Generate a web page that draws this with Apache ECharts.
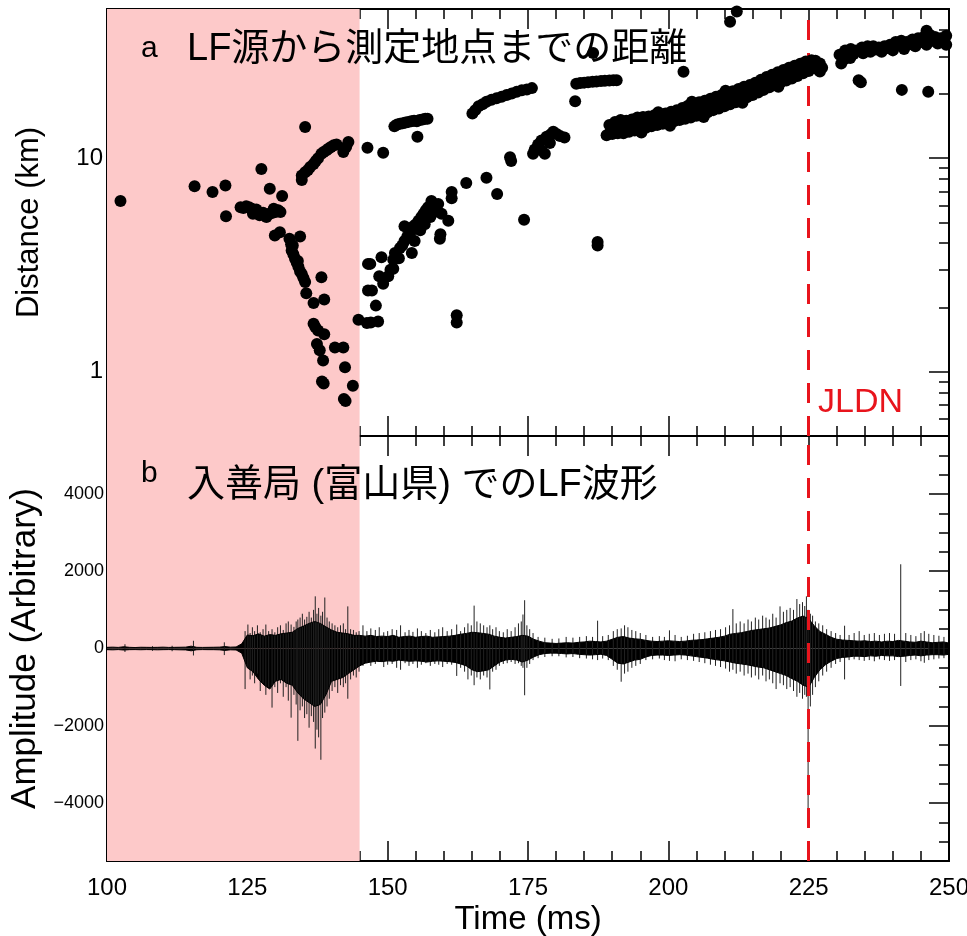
<!DOCTYPE html>
<html><head><meta charset="utf-8">
<script src="https://cdn.jsdelivr.net/npm/echarts@6/dist/echarts.min.js"></script>
<style>html,body{margin:0;padding:0;background:#fff}#c{width:967px;height:936px}</style>
</head><body><div id="c"></div>
<script>
// ---------- data ----------
const timeRange = [100, 250];
const shadeRange = [100, 145];
const jldnTime = 225;
const distMajorTicks = [1, 10];
const distMinorTicks = [0.6, 0.7, 0.8, 0.9, 2, 3, 4, 5, 6, 7, 8, 9, 20, 30, 40];
const ampRange = [-5500, 5500];
const ampMajorTicks = [-4000, -2000, 0, 2000, 4000];

// LF source distance (time ms, distance km)
const lfPoints = [
 [102.4,6.3],[115.6,7.4],[118.8,6.95],[121.1,7.45],[121.2,5.35],[127.5,8.9],[129.0,7.2],[131.2,6.65],
 [123.8,5.9],[124.3,5.85],[124.8,5.95],[125.3,5.9],[125.8,5.8],[126.2,5.7],[126.6,5.75],[127.0,5.6],[127.4,5.5],[127.8,5.55],[128.2,5.4],[128.6,5.45],[129.0,5.5],[129.5,5.55],[130.0,5.6],[130.5,5.7],[130.9,5.6],[126.0,5.5],[127.2,5.4],[128.4,5.3],[129.7,5.8],
 [129.9,4.35],[130.8,4.5],[134.4,4.3],[132.5,4.2],[132.8,3.95],[132.9,3.7],[133.2,3.55],[133.5,3.38],[133.8,3.25],[134.1,3.1],[134.4,2.95],[134.7,2.87],[135.0,2.75],[135.3,2.63],[135.5,2.33],[133.1,3.9],[134.0,3.3],[138.2,2.77],[136.8,2.1],[138.7,2.18],[136.8,1.68],[137.1,1.62],[137.6,1.56],[138.7,1.5],[137.4,1.35],[137.9,1.26],[138.5,1.13],[140.6,1.3],[142.1,1.3],[142.4,1.05],[138.3,0.9],[138.6,0.88],[143.8,0.86],[142.2,0.745],[142.5,0.73],
 [134.7,7.9],[134.7,8.3],[135.3,8.6],[135.8,8.8],[136.2,9.1],[136.8,9.4],[137.2,9.7],[137.6,10.0],[138.2,10.5],[138.6,10.7],[139.1,10.9],[139.5,11.1],[139.9,11.3],[140.4,11.5],[140.9,11.6],[142.1,10.7],[143.0,11.9],[135.3,14.0],[142.6,11.3],
 [146.4,11.2],[149.2,10.6],[144.8,1.75],[146.3,1.69],[147.0,1.70],[148.3,1.72],
 [151.2,14.1],[151.7,14.4],[152.2,14.5],[152.7,14.6],[153.2,14.7],[153.7,14.8],[154.2,14.9],[154.7,15.0],[155.2,14.9],[155.7,15.1],[156.2,15.2],[156.7,15.3],[157.1,15.3],[155.3,12.6],
 [146.5,3.2],[146.5,2.4],[147.9,2.04],[147.2,2.4],[149.2,2.58],[148.5,2.8],[146.9,3.2],[148.9,3.44],[151.0,3.04],[151.0,3.35],[151.3,3.6],[152.2,3.8],[152.6,3.9],[153.0,4.1],[153.5,4.3],[154.0,4.44],[154.6,4.8],[155.0,4.9],[155.5,5.1],[156.0,5.3],[156.4,5.5],[156.8,5.7],[157.2,5.9],[157.8,6.3],[159.0,6.1],[159.6,5.5],[160.8,5.1],[159.3,4.2],[159.4,4.4],[154.3,3.6],[153.0,4.8],[154.8,4.1],[150.1,2.8],[150.5,3.0],[152.0,3.4],[155.8,4.6],[156.6,4.9],[157.6,5.3],[158.3,5.6],[161.4,6.95],[161.4,6.5],[164.0,7.65],[167.6,8.1],[169.5,6.8],[174.3,5.15],[162.3,1.84],[162.3,1.7],
 [165.1,16.2],[165.6,16.8],[166.2,17.5],[166.9,17.9],[167.6,18.4],[168.5,18.8],[169.4,19.1],[170.3,19.4],[171.2,19.8],[172.1,20.1],[173.0,20.5],[173.9,20.8],[174.8,21.0],[175.7,21.3],
 [171.8,10.1],[172.0,9.7],[175.9,10.5],[176.2,11.0],[177.4,12.1],[178.3,12.6],[179.5,13.3],[180.7,12.7],[181.5,12.5],[177.4,10.9],[178.0,10.5],[178.9,11.8],[176.8,11.6],[179.0,12.9],[180.1,13.0],
 [183.6,22.3],[184.3,22.5],[185.0,22.6],[185.7,22.7],[186.5,22.8],[187.2,22.9],[188.0,23.0],[188.7,23.05],[189.5,23.1],[190.2,23.2],[190.8,23.2],[183.4,18.5],[186.6,31.1],[187.4,4.05],[187.4,3.9],
 [189.0,12.8],[190,13.0],[191,13.1],[192,13.1],[193,13.3],[194,13.5],[195,13.7],[196,13.9],[197,14.1],[198,14.3],[199,14.5],[200,14.7],[201,14.9],[202,15.1],[203,15.3],[204,15.5],[205,15.8],[206,16.1],[207,16.4],[208,16.8],[209,17.1],[210,17.5],[211,17.9],[212,18.3],[213,18.8],[214,19.3],[215,19.8],[216,20.3],[217,20.9],[218,21.5],[219,22.1],[220,22.6],[221,23.1],[222,23.6],[223,24.3],[224,25.0],[225,25.6],[226,26.4],[227,25.5],
 [189.8,13.6],[190.8,13.9],[191.8,14.1],[192.8,14.1],[193.8,14.3],[194.8,14.5],[195.8,14.7],[196.8,14.8],[197.8,15.0],[198.8,15.2],[199.8,15.3],[200.8,15.6],[201.8,15.8],[202.8,16.1],[203.8,16.4],[204.8,16.7],[205.8,17.0],[206.8,17.4],[207.8,17.7],[208.8,18.1],[209.8,18.5],[210.8,18.8],[211.8,19.2],[212.8,19.7],[213.8,20.2],[214.8,20.6],[215.8,21.2],[216.8,21.8],[217.8,22.4],[218.8,23.0],[219.8,23.6],[220.8,24.2],[221.8,24.8],[222.8,25.4],[223.8,26.0],[224.8,26.7],[225.8,27.4],[226.6,26.8],[227.4,26.5],
 [189.5,14.3],[190.5,14.8],[191.5,15.1],[192.5,15.0],[193.5,15.2],[194.5,15.5],[195.5,15.6],[196.5,15.7],[197.5,15.9],[198.5,16.0],[199.5,16.2],[200.5,16.5],[201.5,16.8],[202.5,17.2],[203.5,17.6],[204.5,18.0],[205.5,18.3],[206.5,18.6],[207.5,19.0],[208.5,19.4],[209.5,19.8],[210.5,20.2],[211.5,20.6],[212.5,21.1],[213.5,21.6],[214.5,22.0],[215.5,22.6],[216.5,23.3],[217.5,24.0],[218.5,24.6],[219.5,25.3],[220.5,25.9],[221.5,26.5],[222.5,27.1],[223.5,27.7],[224.5,28.4],[225.5,28.8],[226.2,28.6],[227.0,27.8],
 [195.2,13.2],[200.3,14.2],[206.3,15.6],[213.2,18.2],[219.6,21.6],[198.2,16.4],[204.2,18.4],[210.2,20.7],
 [230.5,30.5],[231.5,32.0],[232.5,32.5],[233.5,32.0],[234.5,33.0],[235.5,33.5],[236.5,33.5],[237.5,33.0],[238.5,33.5],[239.5,34.0],[240.5,35.0],[241.5,35.5],[242.5,35.0],[243.5,36.0],[244.5,36.5],[245.5,37.0],[246.0,39.5],[246.5,38.0],[247.5,37.0],[248.5,36.5],[249.5,37.5],
 [231.0,30.2],[233.0,30.8],[235.0,32.2],[237.0,32.3],[239.0,32.8],[241.0,33.7],[243.0,34.2],[245.0,35.0],[247.0,35.5],[249.0,35.5],
 [230.8,27.8],[231.3,29.0],[232.4,29.5],[234.7,31.0],[236.0,31.5],[238.0,31.5],[240.0,32.0],[242.0,32.5],[244.0,33.5],[246.0,34.0],[248.0,34.5],[249.5,34.0],
 [233.9,23.2],[234.3,22.7],[241.6,20.9],[246.3,20.5],[211.0,43.6],[212.2,48.7],[202.7,25.4]
];

// waveform envelope, read per ms
const envTime = [100,101,102,103,104,105,106,107,108,109,110,111,112,113,114,115,116,117,118,119,120,121,122,123,124,125,126,127,128,129,130,131,132,133,134,135,136,137,138,139,140,141,142,143,144,145,146,147,148,149,150,151,152,153,154,155,156,157,158,159,160,161,162,163,164,165,166,167,168,169,170,171,172,173,174,175,176,177,178,179,180,181,182,183,184,185,186,187,188,189,190,191,192,193,194,195,196,197,198,199,200,201,202,203,204,205,206,207,208,209,210,211,212,213,214,215,216,217,218,219,220,221,222,223,224,225,226,227,228,229,230,231,232,233,234,235,236,237,238,239,240,241,242,243,244,245,246,247,248,249,250];
const envHigh = [30,35,28,45,30,25,32,30,28,30, 35,28,30,32,35,60,30,28,30,32, 35,50,35,40,120,350,330,380,320,360, 340,380,400,420,520,580,650,700,650,560, 480,420,400,380,340,340,320,340,310,320, 310,340,290,310,320,290,310,320,290,300, 310,320,340,370,390,420,410,390,370,320, 290,270,290,310,340,320,240,190,150,140, 130,140,150,140,160,170,190,180,170,190, 240,290,310,270,250,240,210,190,180,190, 200,190,180,190,210,220,230,250,270,290, 320,370,390,410,440,470,490,510,530,570, 610,670,710,790,840,770,590,440,370,290, 240,220,210,200,190,200,180,190,170,190, 180,210,190,170,160,190,170,150,160,170, 140];
const envLow = [-30,-35,-28,-40,-30,-28,-32,-28,-30,-34, -30,-28,-30,-34,-36,-60,-32,-28,-30,-30, -34,-50,-34,-38,-120,-500,-600,-800,-950,-1050, -850,-800,-900,-950,-1150,-1300,-1400,-1500,-1450,-1200, -850,-800,-750,-650,-550,-450,-380,-350,-330,-340, -320,-330,-300,-320,-330,-320,-330,-350,-330,-320, -330,-340,-360,-400,-450,-550,-600,-580,-550,-450, -350,-300,-280,-300,-350,-300,-220,-160,-130,-120, -120,-130,-140,-130,-150,-160,-170,-160,-150,-180, -280,-380,-400,-350,-300,-280,-220,-180,-170,-170, -180,-170,-160,-170,-190,-210,-230,-250,-280,-300, -320,-350,-380,-400,-420,-450,-480,-500,-550,-600, -650,-700,-780,-850,-950,-1000,-750,-550,-420,-330, -260,-230,-220,-200,-200,-210,-190,-200,-180,-190, -190,-210,-200,-180,-170,-190,-170,-160,-160,-170, -150];

// individual spikes: [time, max, min]
const spikes = [
 [103.2,110,-90],[108.1,60,-60],[111.6,70,-70],[115.4,200,-180],[120.9,160,-170],
 [124.6,450,-1050],[125.1,620,-500],[125.5,400,-800],[125.9,550,-700],[126.3,450,-900],[126.8,600,-650],[127.3,420,-1100],[127.8,500,-900],[128.3,620,-1200],[128.8,450,-1000],[129.4,500,-1530],[129.9,420,-1000],[130.4,550,-1150],[130.9,600,-900],[131.4,480,-1250],[131.9,650,-1000],[132.3,700,-1350],[132.8,620,-1790],[133.3,560,-1200],[133.7,700,-1450],[134.0,750,-2390],[134.4,800,-1600],[134.8,900,-1500],[135.2,750,-1800],[135.6,820,-1700],[136.0,950,-2050],[136.4,800,-1750],[136.8,1000,-1900],[137.1,1350,-2590],[137.4,900,-2100],[137.7,1050,-2300],[138.1,850,-2880],[138.4,950,-1800],[138.8,1320,-1660],[139.2,800,-1500],[139.6,700,-1300],[140.1,650,-1100],[140.6,600,-1000],[141.1,550,-1150],[141.6,600,-950],[142.1,650,-1000],[142.5,500,-900],[142.9,1090,-1300],[143.4,500,-800],[143.9,480,-700],[144.4,420,-750],[144.9,450,-600],
 [145.6,600,-450],[146.3,450,-380],[147.0,520,-450],[147.8,480,-400],[148.5,550,-350],[149.3,420,-480],[150.0,450,-420],[150.8,500,-400],[151.6,480,-500],[152.3,600,-550],[153.1,420,-380],[153.8,480,-450],[154.5,430,-400],[155.3,520,-500],[156.0,450,-420],[156.8,400,-380],[157.6,480,-450],[158.4,420,-400],[159.1,500,-420],[159.8,550,-480],[160.6,450,-400],[161.4,500,-420],[162.3,620,-710],[163.0,450,-500],[163.7,550,-600],[164.3,650,-800],[164.9,600,-700],[165.4,1110,-950],[165.9,700,-750],[166.5,650,-800],[167.1,600,-700],[167.7,550,-750],[168.2,600,-1060],[168.7,500,-600],[169.3,550,-550],[169.9,450,-450],[170.6,420,-400],[171.3,500,-380],[172.0,450,-350],[172.7,550,-400],[173.3,650,-380],[173.8,700,-450],[174.1,880,-500],[174.4,1250,-1210],[174.8,600,-500],[175.3,500,-400],[175.9,400,-300],[176.8,300,-250],[178.0,280,-220],[179.3,250,-200],[180.5,260,-200],[181.8,300,-230],[183.0,280,-220],[184.2,300,-250],[185.4,320,-260],[186.5,300,-280],[187.4,720,-300],[188.3,320,-260],[189.3,350,-300],[190.2,450,-450],[190.9,500,-550],[191.6,520,-860],[192.2,600,-650],[192.8,550,-600],[193.5,480,-500],[194.2,450,-450],[195.0,400,-400],[196.0,350,-300],[197.2,300,-280],[198.4,320,-260],[199.3,300,-300],[200.2,470,-320],[201.2,350,-330],[202.3,300,-280],[203.4,330,-300],[204.5,380,-320],[205.5,400,-350],[206.5,420,-380],[207.5,450,-420],[208.4,480,-450],[209.3,500,-480],[210.2,550,-520],[210.9,600,-600],[211.5,1020,-550],[212.1,650,-650],[212.8,700,-600],[213.5,650,-700],[214.2,750,-650],[214.8,700,-750],[215.5,800,-700],[216.1,750,-800],[216.8,850,-700],[217.4,800,-850],[218.0,750,-800],[218.6,900,-900],[219.2,800,-1050],[219.9,1090,-900],[220.5,950,-950],[221.1,1000,-1050],[221.7,1050,-1000],[222.3,1000,-1100],[222.9,1280,-1250],[223.4,1150,-1150],[223.9,1200,-1300],[224.3,1100,-1200],[224.6,1350,-1250],[224.9,1000,-4500],[225.3,900,-1500],[225.7,850,-1200],[226.2,700,-1000],[226.8,650,-850],[227.5,600,-700],[228.2,500,-600],[229.0,450,-500],[229.8,400,-400],[230.6,350,-350],[231.4,590,-800],[232.2,350,-300],[233.1,400,-280],[234.0,450,-300],[234.9,350,-320],[235.8,380,-300],[236.7,400,-330],[237.6,350,-280],[238.5,380,-300],[239.4,400,-320],[240.3,380,-300],[241.4,2180,-970],[242.3,400,-350],[243.2,350,-300],[244.1,320,-280],[245.0,400,-330],[245.6,450,-370],[246.4,380,-300],[247.3,350,-280],[248.2,330,-260],[249.1,300,-250]
];

const titleA = 'LF源から測定地点までの距離';
const titleB = '入善局 (富山県) でのLF波形';

// ---------- chart ----------
const LATIN = '"Liberation Sans", Arial, Helvetica, sans-serif';
const MIXED = '"Liberation Sans", "Noto Sans CJK JP", sans-serif';
const chart = echarts.init(document.getElementById('c'), null, {renderer: 'canvas'});

const lineSt = {color: '#000', width: 2};
const tickSt = {color: '#000', width: 1.5};

function xAx(grid, pos, showLabel) {
  return {
    type: 'value', gridIndex: grid, position: pos,
    min: timeRange[0], max: timeRange[1], interval: 25,
    axisLine: {show: true, onZero: false, lineStyle: lineSt},
    axisTick: {show: true, inside: true, length: 20, lineStyle: tickSt},
    minorTick: {show: true, splitNumber: 5, length: 10, lineStyle: tickSt},
    splitLine: {show: false}, minorSplitLine: {show: false},
    axisLabel: {show: showLabel, color: '#000', fontFamily: LATIN, fontSize: 24, margin: 15},
    name: showLabel ? 'Time (ms)' : '', nameLocation: 'middle', nameGap: 42,
    nameTextStyle: {color: '#000', fontFamily: LATIN, fontSize: 33}
  };
}
function logAx(pos, ticks, len, labels, name) {
  return {
    type: 'log', logBase: 10, gridIndex: 0, position: pos, min: 0.5, max: 50,
    axisLine: {show: true, onZero: false, lineStyle: lineSt},
    axisTick: {show: true, inside: true, length: len, customValues: ticks, lineStyle: tickSt},
    splitLine: {show: false},
    axisLabel: labels ? {show: true, customValues: distMajorTicks, color: '#000', fontFamily: LATIN, fontSize: 24, margin: 4} : {show: false},
    name: name || '', nameLocation: 'middle', nameGap: 62,
    nameTextStyle: {color: '#000', fontFamily: LATIN, fontSize: 31}
  };
}
function ampAx(pos, major, labels, name) {
  const ax = {
    type: 'value', gridIndex: 1, position: pos, min: ampRange[0], max: ampRange[1],
    axisLine: {show: true, onZero: false, lineStyle: lineSt},
    splitLine: {show: false},
    axisLabel: labels ? {show: true, customValues: ampMajorTicks, color: '#000', fontFamily: LATIN, fontSize: 18, margin: 3,
      formatter: function (v) { return v < 0 ? '\u2212' + Math.abs(v) : String(v); }} : {show: false},
    name: name || '', nameLocation: 'middle', nameGap: 58,
    nameTextStyle: {color: '#000', fontFamily: LATIN, fontSize: 35}
  };
  if (major) {
    ax.axisTick = {show: true, inside: true, length: 20, customValues: ampMajorTicks, lineStyle: tickSt};
  } else {
    ax.interval = 500;
    ax.axisTick = {show: true, inside: true, length: 10, lineStyle: tickSt};
  }
  return ax;
}

const shadeArea = {silent: true, itemStyle: {color: '#fdc9c9'}, data: [[{xAxis: shadeRange[0]}, {xAxis: shadeRange[1]}]]};
const redLine = {silent: true, symbol: ['none', 'none'], label: {show: false},
  lineStyle: {color: '#e8141c', width: 3, type: [20, 13]}, data: [{xAxis: jldnTime}], animation: false};

const option = {
  animation: false,
  backgroundColor: '#fff',
  grid: [
    {left: 107, right: 18, top: 9, height: 427, outerBoundsMode: 'none'},
    {left: 107, right: 18, top: 436, height: 425, outerBoundsMode: 'none'}
  ],
  xAxis: [xAx(0, 'bottom', false), xAx(0, 'top', false), xAx(1, 'bottom', true), xAx(1, 'top', false)],
  yAxis: [
    logAx('left', distMajorTicks, 20, true, 'Distance (km)'),
    logAx('left', distMinorTicks, 10, false),
    logAx('right', distMajorTicks, 20, false),
    logAx('right', distMinorTicks, 10, false),
    ampAx('left', false, true, 'Amplitude (Arbitrary)'),
    ampAx('left', true, false),
    ampAx('right', false, false),
    ampAx('right', true, false)
  ],
  series: [
    {type: 'line', xAxisIndex: 0, yAxisIndex: 0, data: [], z: 1, markArea: shadeArea},
    {type: 'line', xAxisIndex: 2, yAxisIndex: 4, data: [], z: 1, markArea: shadeArea},
    {type: 'scatter', xAxisIndex: 0, yAxisIndex: 0, data: lfPoints, symbol: 'circle', symbolSize: 12,
      itemStyle: {color: '#000', opacity: 1}, z: 5, silent: true},
    {type: 'line', xAxisIndex: 2, yAxisIndex: 4, data: envTime.map((t, i) => [t, envHigh[i]]),
      showSymbol: false, symbol: 'none', lineStyle: {color: '#000', width: 1}, areaStyle: {color: '#000', opacity: 1}, z: 4, silent: true},
    {type: 'line', xAxisIndex: 2, yAxisIndex: 4, data: envTime.map((t, i) => [t, envLow[i]]),
      showSymbol: false, symbol: 'none', lineStyle: {color: '#000', width: 1}, areaStyle: {color: '#000', opacity: 1}, z: 4, silent: true},
    {type: 'custom', xAxisIndex: 2, yAxisIndex: 4, data: spikes, z: 4, silent: true,
      encode: {x: 0, y: [1, 2]},
      renderItem: function (params, api) {
        const p1 = api.coord([api.value(0), api.value(1)]);
        const p2 = api.coord([api.value(0), api.value(2)]);
        return {type: 'line', shape: {x1: p1[0], y1: p1[1], x2: p2[0], y2: p2[1]}, style: {stroke: '#222', lineWidth: 1}};
      }},
    {type: 'line', xAxisIndex: 0, yAxisIndex: 0, data: [], z: 8, markLine: redLine},
    {type: 'line', xAxisIndex: 2, yAxisIndex: 4, data: [], z: 8, markLine: redLine}
  ],
  graphic: [
    {type: 'text', left: 141, top: 34, z: 100, style: {text: 'a', font: '30px ' + LATIN, fill: '#000'}},
    {type: 'text', left: 187, top: 31, z: 100, style: {text: titleA, font: '38px ' + MIXED, fill: '#000'}},
    {type: 'text', left: 141, top: 459, z: 100, style: {text: 'b', font: '30px ' + LATIN, fill: '#000'}},
    {type: 'text', left: 187, top: 467, z: 100, style: {text: titleB, font: '38px ' + MIXED, fill: '#000'}},
    {type: 'text', left: 818, top: 386, z: 100, style: {text: 'JLDN', font: '34px ' + LATIN, fill: '#e8141c'}}
  ]
};
chart.setOption(option);
</script>
</body></html>
